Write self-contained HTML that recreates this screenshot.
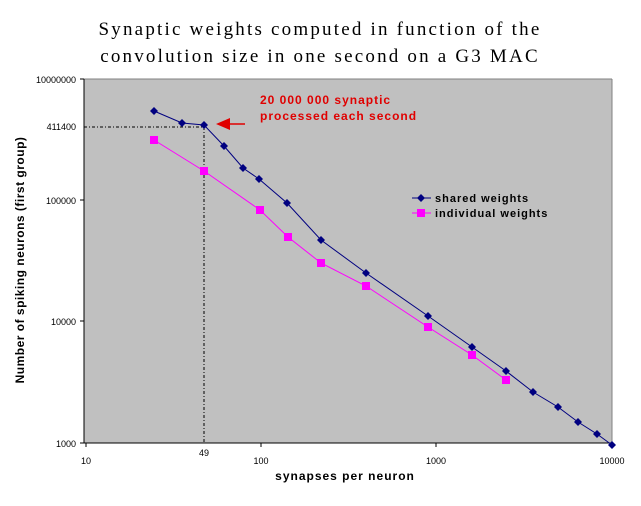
<!DOCTYPE html><html><head><style>body{margin:0;background:#fff}svg text{font-family:"Liberation Sans",sans-serif}</style></head><body>
<svg width="641" height="501" xmlns="http://www.w3.org/2000/svg">
<rect width="641" height="501" fill="#fff"/>
<text x="320" y="35" text-anchor="middle" font-size="19" letter-spacing="2.2" style="font-family:'Liberation Serif',serif">Synaptic weights computed in function of the</text>
<text x="320" y="62" text-anchor="middle" font-size="19" letter-spacing="2.2" style="font-family:'Liberation Serif',serif">convolution size in one second on a G3 MAC</text>
<rect x="84" y="79" width="528" height="364" fill="#c0c0c0"/>
<line x1="84" y1="79" x2="612" y2="79" stroke="#808080"/>
<line x1="612" y1="79" x2="612" y2="443" stroke="#808080"/>
<line x1="84" y1="79" x2="84" y2="443" stroke="#000"/>
<line x1="84" y1="443" x2="612" y2="443" stroke="#000"/>
<g stroke="#000"><line x1="80" y1="79" x2="84" y2="79"/><line x1="80" y1="200" x2="84" y2="200"/><line x1="80" y1="321" x2="84" y2="321"/><line x1="80" y1="443" x2="84" y2="443"/>
<line x1="86" y1="443" x2="86" y2="447"/><line x1="261" y1="443" x2="261" y2="447"/><line x1="436" y1="443" x2="436" y2="447"/><line x1="612" y1="443" x2="612" y2="447"/></g>
<g font-size="9" text-anchor="end"><text x="76" y="83">10000000</text><text x="76" y="130">411400</text><text x="76" y="204">100000</text><text x="76" y="325">10000</text><text x="76" y="447">1000</text></g>
<g font-size="9" text-anchor="middle"><text x="86" y="464">10</text><text x="204" y="456">49</text><text x="261" y="464">100</text><text x="436" y="464">1000</text><text x="612" y="464">10000</text></g>
<text x="345" y="480" text-anchor="middle" font-size="12" font-weight="bold" letter-spacing="1">synapses per neuron</text>
<text transform="translate(24,260) rotate(-90)" text-anchor="middle" font-size="12" font-weight="bold" letter-spacing="0.5">Number of spiking neurons (first group)</text>
<path d="M84 127H204V443" stroke="#000" stroke-dasharray="3,2,1,2" fill="none"/>
<text x="260" y="104" fill="#e00000" font-size="12" font-weight="bold" letter-spacing="1">20 000 000 synaptic</text>
<text x="260" y="120" fill="#e00000" font-size="12" font-weight="bold" letter-spacing="1">processed each second</text>
<line x1="228" y1="124" x2="245" y2="124" stroke="#e00000" stroke-width="1.5"/>
<polygon points="216,124 230,118 230,130" fill="#e00000"/>
<polyline fill="none" stroke="#000080" points="154,111 182,123 204,125 224,146 243,168 259,179 287,203 321,240 366,273 428,316 472,347 506,371 533,392 558,407 578,422 597,434 612,445"/>
<g fill="#000080">
<path d="M154,107l4,4l-4,4l-4,-4z M182,119l4,4l-4,4l-4,-4z M204,121l4,4l-4,4l-4,-4z M224,142l4,4l-4,4l-4,-4z M243,164l4,4l-4,4l-4,-4z M259,175l4,4l-4,4l-4,-4z M287,199l4,4l-4,4l-4,-4z M321,236l4,4l-4,4l-4,-4z M366,269l4,4l-4,4l-4,-4z M428,312l4,4l-4,4l-4,-4z M472,343l4,4l-4,4l-4,-4z M506,367l4,4l-4,4l-4,-4z M533,388l4,4l-4,4l-4,-4z M558,403l4,4l-4,4l-4,-4z M578,418l4,4l-4,4l-4,-4z M597,430l4,4l-4,4l-4,-4z M612,441l4,4l-4,4l-4,-4z"/></g>
<polyline fill="none" stroke="#ff00ff" points="154,140 204,171 260,210 288,237 321,263 366,286 428,327 472,355 506,380"/>
<g fill="#ff00ff"><rect x="150" y="136" width="8" height="8"/><rect x="200" y="167" width="8" height="8"/><rect x="256" y="206" width="8" height="8"/><rect x="284" y="233" width="8" height="8"/><rect x="317" y="259" width="8" height="8"/><rect x="362" y="282" width="8" height="8"/><rect x="424" y="323" width="8" height="8"/><rect x="468" y="351" width="8" height="8"/><rect x="502" y="376" width="8" height="8"/></g>
<line x1="412" y1="198" x2="431" y2="198" stroke="#000080"/><path d="M421,194l4,4l-4,4l-4,-4z" fill="#000080"/>
<line x1="412" y1="213" x2="431" y2="213" stroke="#ff00ff"/><rect x="417" y="209" width="8" height="8" fill="#ff00ff"/>
<text x="435" y="202" font-size="11" font-weight="bold" letter-spacing="1">shared weights</text>
<text x="435" y="217" font-size="11" font-weight="bold" letter-spacing="1">individual weights</text>
</svg></body></html>
